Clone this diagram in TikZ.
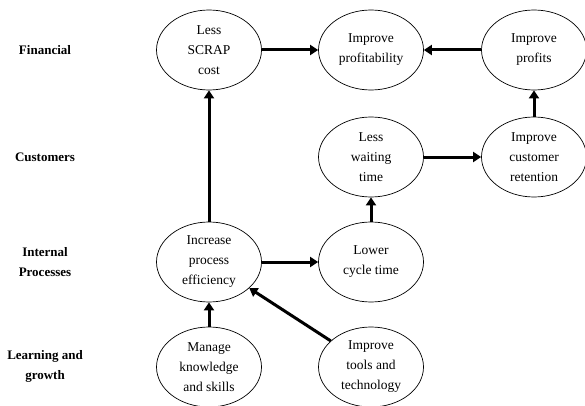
\documentclass[tikz,border=0pt]{standalone}
\usepackage{fontspec}
\setmainfont{Liberation Serif}
\usetikzlibrary{arrows.meta, shapes.geometric}

\begin{document}
\begin{tikzpicture}[x=1pt, y=-1pt,
  goal/.style={draw, ellipse, line width=0.7pt, minimum width=105pt, minimum height=80pt,
    inner sep=0pt, align=center, font=\fontsize{13.5}{20}\selectfont},
  persp/.style={align=center, font=\fontsize{13}{20}\selectfont\bfseries},
  link/.style={line width=3pt, -{Triangle[length=8pt,width=10pt]}}]

\useasboundingbox (0,0) rectangle (585,406);

% perspectives
\node[persp] (fin) at (45,50) {Financial};
\node[persp] (cus) at (45,157) {Customers};
\node[persp] (int) at (45,262) {Internal\\Processes};
\node[persp] (lrn) at (45,366) {Learning and\\growth};

% objectives
\node[goal] (scrap) at (209,50) {Less\\SCRAP\\cost};
\node[goal] (prof) at (371,50) {Improve\\profitability};
\node[goal] (profits) at (534,50) {Improve\\profits};
\node[goal] (wait) at (371,157) {Less\\waiting\\time};
\node[goal] (ret) at (534,157) {Improve\\customer\\retention};
\node[goal] (eff) at (209,262) {Increase\\process\\efficiency};
\node[goal] (cycle) at (371,262) {Lower\\cycle time};
\node[goal] (know) at (209,367) {Manage\\knowledge\\and skills};
\node[goal] (tools) at (371,367) {Improve\\tools and\\technology};

% links
\draw[link] (eff) -- (scrap);
\draw[link] (scrap) -- (prof);
\draw[link] (profits) -- (prof);
\draw[link] (ret) -- (profits);
\draw[link] (wait) -- (ret);
\draw[link] (cycle) -- (wait);
\draw[link] (eff) -- (cycle);
\draw[link] (know) -- (eff);
\draw[link] (tools) -- (eff);

\end{tikzpicture}
\end{document}
